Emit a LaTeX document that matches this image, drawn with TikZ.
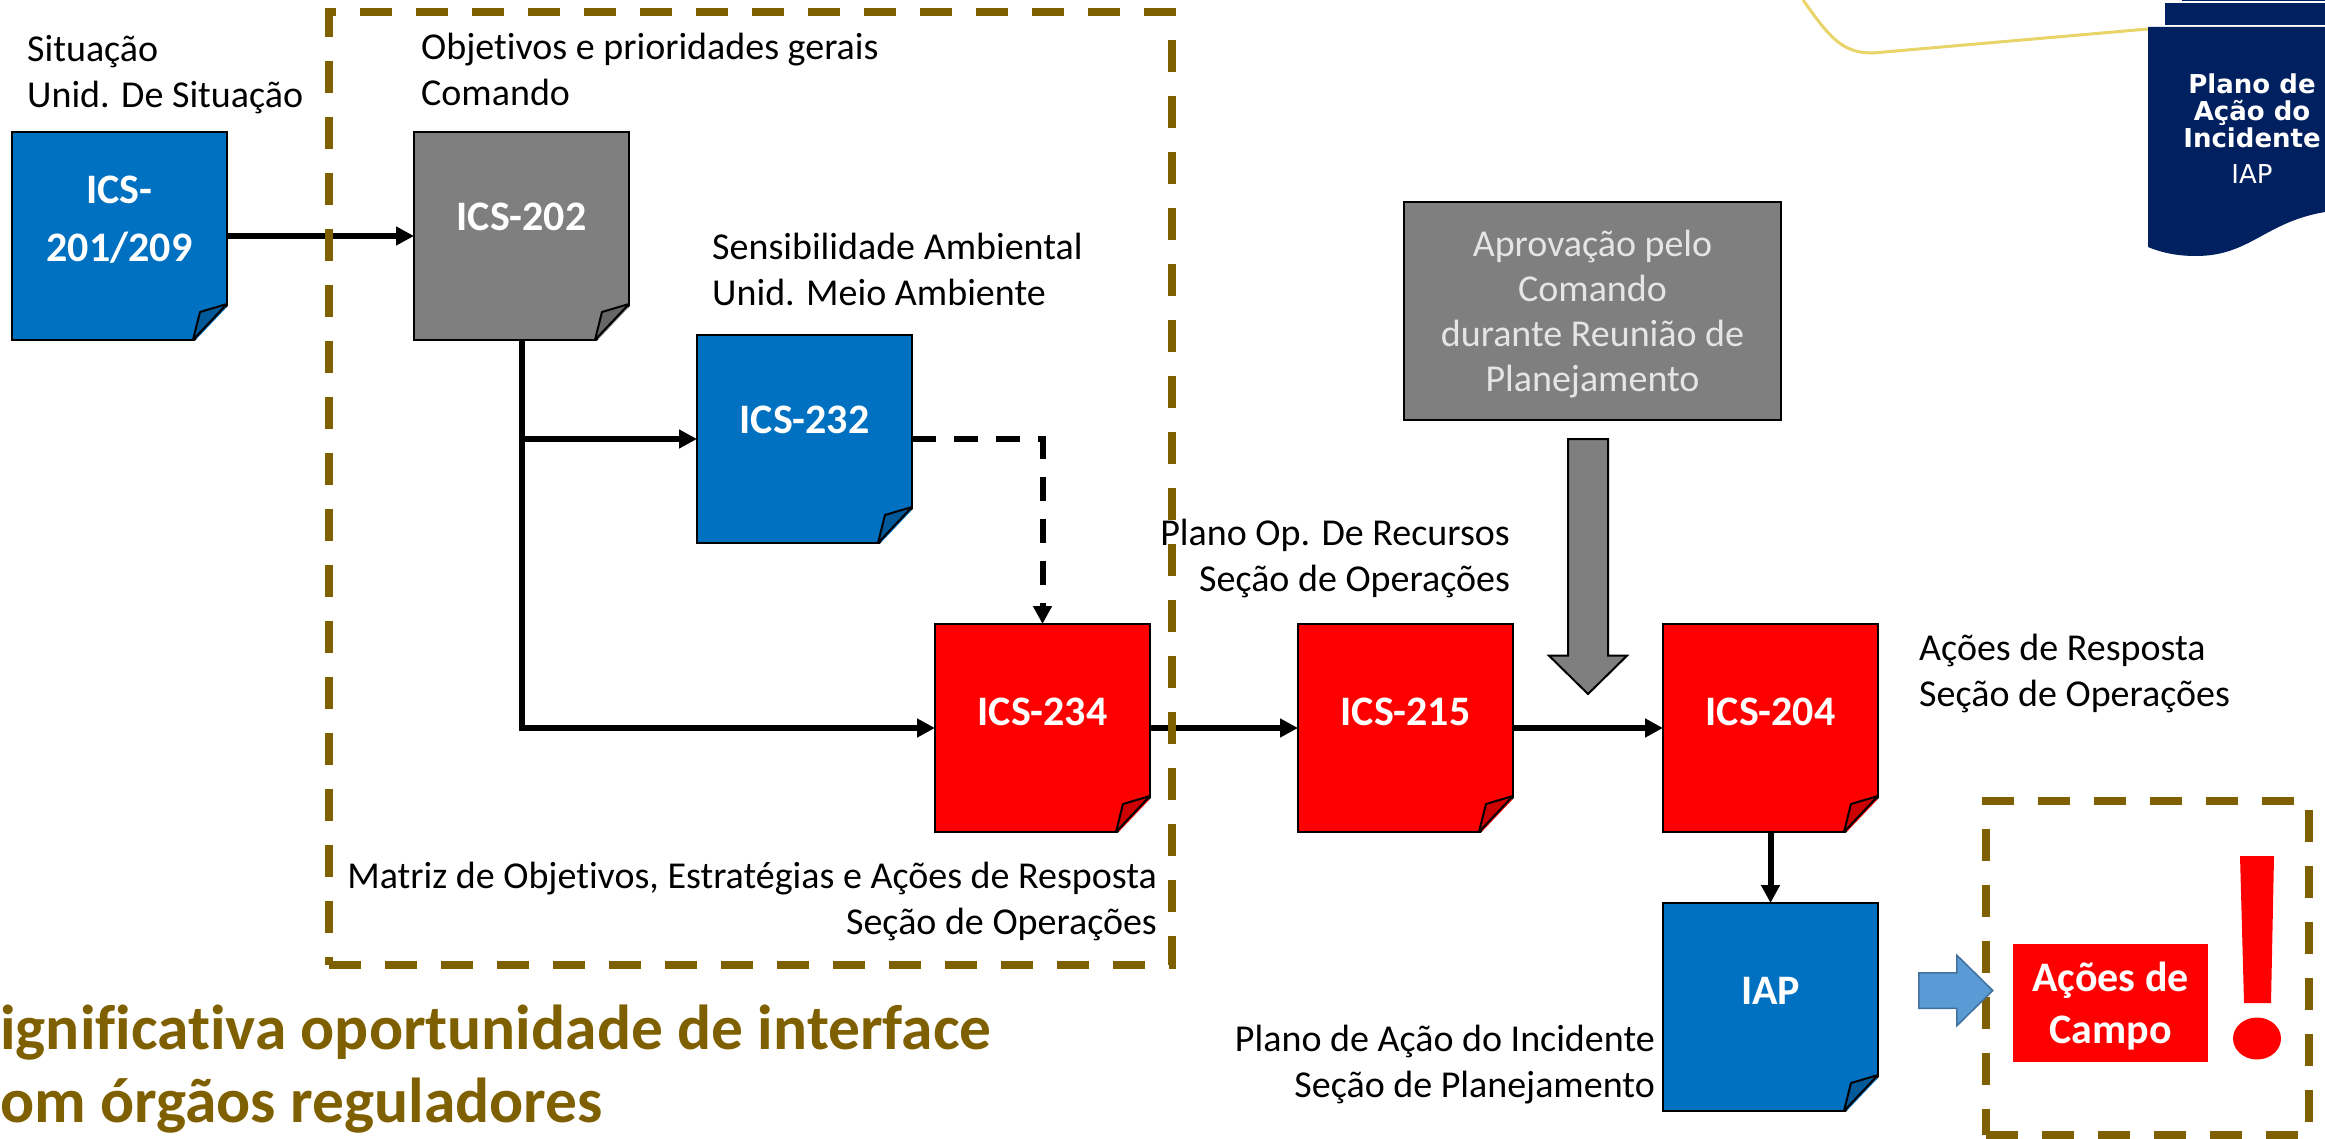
\documentclass[tikz,border=0pt]{standalone}
\usepackage{fontspec}
\setmainfont[Ligatures=NoCommon]{Carlito}
\newfontfamily\ribbonfont{DejaVu Sans}
\usepackage{xcolor}
\usepackage{tikz}
\usetikzlibrary{shapes,arrows,arrows.meta,positioning}

\definecolor{docblue}{HTML}{0070C0}
\definecolor{docred}{HTML}{FF0000}
\definecolor{docgray}{HTML}{7F7F7F}
\definecolor{foldblue}{HTML}{005A9A}
\definecolor{foldred}{HTML}{CC0000}
\definecolor{foldgray}{HTML}{666666}
\definecolor{scopebrown}{HTML}{7F6000}
\definecolor{ribbonnavy}{HTML}{002060}
\definecolor{curveyellow}{HTML}{E8D468}
\definecolor{pushblue}{HTML}{5B9BD5}
\definecolor{pushedge}{HTML}{41719C}

\tikzset{
  docbox/.style={draw=black, line width=2pt, outer sep=0pt, inner sep=0pt, text=white, align=center,
    minimum width=215pt, minimum height=208pt, font=\fontsize{42}{58}\selectfont\bfseries},
  caption/.style={align=#1, inner sep=0pt, font=\fontsize{38}{46}\selectfont},
  scopebox/.style={draw=scopebrown, line width=8pt, dash pattern=on 32pt off 24pt, outer sep=0pt, inner sep=0pt},
  conn/.style={line width=6pt, -{Triangle[length=18pt,width=18pt]}},
}
\newcommand{\docfold}[2]{
  \fill[white] ([xshift=3pt,yshift=36pt]#1.south east) -- ([xshift=3pt,yshift=-3pt]#1.south east) -- ([xshift=-34pt,yshift=-3pt]#1.south east) -- cycle;
  \draw[line width=2pt, line join=round, fill=#2] ([yshift=36pt]#1.south east) -- ([xshift=-27pt,yshift=28pt]#1.south east) -- ([xshift=-34pt]#1.south east) -- cycle;
}

\begin{document}
\begin{tikzpicture}[x=1pt, y=-1pt]
\useasboundingbox (0,0) rectangle (2325,1139);
% Corner of the other figure
\draw[line width=3pt, draw=curveyellow] (1803,0) .. controls (1830,38) and (1842,53) .. (1873,53) -- (2148,29);
\fill[ribbonnavy] (2182,0) rectangle (2325,1.5);
\fill[ribbonnavy] (2165,3) rectangle (2325,25);
\fill[ribbonnavy] (2148,27) -- (2325,27) -- (2325,212) .. controls (2265,222) and (2250,256) .. (2196,256) .. controls (2175,256) and (2160,252) .. (2148,247) -- cycle;
\node[text=white, align=center, inner sep=0pt, font=\ribbonfont\fontsize{26}{27}\selectfont\bfseries] (ribbontitle) at (2252,111) {Plano de \\ Ação do \\ Incidente};
\node[text=white, inner sep=0pt, font=\ribbonfont\fontsize{26}{28}\selectfont, below=16pt of ribbontitle] (ribbonsub) {IAP};
% Documents
\node[docbox, fill=docblue, text depth=34pt] (ics201) at (119.5,236) {ICS- \\ 201/209};
\node[docbox, fill=docgray, text depth=38pt, right=187pt of ics201] (ics202) {ICS-202};
\node[docbox, fill=docblue, text depth=38pt] (ics232) at (804.5,439) {ICS-232};
\node[docbox, fill=docred, text depth=32pt] (ics234) at (1042.5,728) {ICS-234};
\node[docbox, fill=docred, text depth=32pt, right=148pt of ics234] (ics215) {ICS-215};
\node[docbox, fill=docred, text depth=32pt, right=150pt of ics215] (ics204) {ICS-204};
\node[docbox, fill=docblue, text depth=32pt, below=71pt of ics204] (iap) {IAP};
\foreach \docname/\foldcolor in {ics201/foldblue, ics202/foldgray, ics232/foldblue, ics234/foldred, ics215/foldred, ics204/foldred, iap/foldblue}{
  \docfold{\docname}{\foldcolor}
}
% Approval box and its arrow
\node[draw=black, line width=2pt, fill=docgray, text=white!90!black, align=center, inner sep=0pt, outer sep=0pt, minimum width=377pt, minimum height=218pt, text depth=0pt, font=\fontsize{38}{45}\selectfont] (approval) at (1592.5,311) {Aprovação pelo \\ Comando \\ durante Reunião de \\ Planejamento};
\node[draw=black, line width=2pt, fill=docgray, single arrow, shape border rotate=270, anchor=tail, inner xsep=19pt, inner ysep=0pt, minimum height=255pt, single arrow head extend=19pt, single arrow tip angle=91] (approvalarrow) at (1588,438) {};
% Captions
\node[caption=left, anchor=west] (capsit) at (27,75) {Situação \\ Unid. De Situação};
\node[caption=left, anchor=west] (capobj) at (421,69) {Objetivos e prioridades gerais \\ Comando};
\node[caption=left, anchor=west] (capamb) at (712,269) {Sensibilidade Ambiental \\ Unid. Meio Ambiente};
\node[caption=right, anchor=east] (capmat) at (1157,901) {Matriz de Objetivos, Estratégias e Ações de Resposta \\ Seção de Operações};
\node[caption=right, anchor=east] (caprec) at (1510,558) {Plano Op. De Recursos \\ Seção de Operações};
\node[caption=left, anchor=west] (capres) at (1919,673) {Ações de Resposta \\ Seção de Operações};
\node[caption=right, anchor=east] (capiap) at (1655,1065) {Plano de Ação do Incidente \\ Seção de Planejamento};
% Arrows
\draw[conn] (ics201) -- (ics202);
\draw[conn] (ics202.south) |- (ics234.west);
\draw[conn] (ics202.south |- ics232.west) -- (ics232.west);
\draw[conn, dash pattern=on 24pt off 18pt] (ics232.east) -| (ics234.north);
\draw[conn] (ics234) -- (ics215);
\draw[conn] (ics215) -- (ics204);
\draw[conn] (ics204) -- (iap);
% Dashed groups
\node[scopebox, minimum width=843pt, minimum height=953pt] (scopeplan) at (750.5,488.5) {};
\node[scopebox, minimum width=323pt, minimum height=334pt] (scopefield) at (2147.5,968) {};
% Field actions
\node[fill=docred, text=white, align=center, inner sep=0pt, minimum width=195pt, minimum height=118pt, text depth=0pt, font=\fontsize{42}{52}\selectfont\bfseries] (campo) at (2110.5,1003) {Ações de \\ Campo};
\node[draw=pushedge, line width=1.5pt, fill=pushblue, single arrow, anchor=tail, inner xsep=0pt, inner ysep=17pt, minimum height=74pt, single arrow head extend=17.5pt, single arrow tip angle=89] (fieldarrow) at (1918,990.5) {};
\fill[docred] (2240,856) -- (2274,856) -- (2271,1003) -- (2244,1003) -- cycle;
\fill[docred] (2257,1038.5) ellipse (24pt and 21pt);
% Heading
\node[caption=left, anchor=north west, text=scopebrown, font=\fontsize{63.5}{73}\selectfont\bfseries] (heading) at (0,1005) {ignificativa oportunidade de interface \\ om órgãos reguladores};
\end{tikzpicture}
\end{document}
